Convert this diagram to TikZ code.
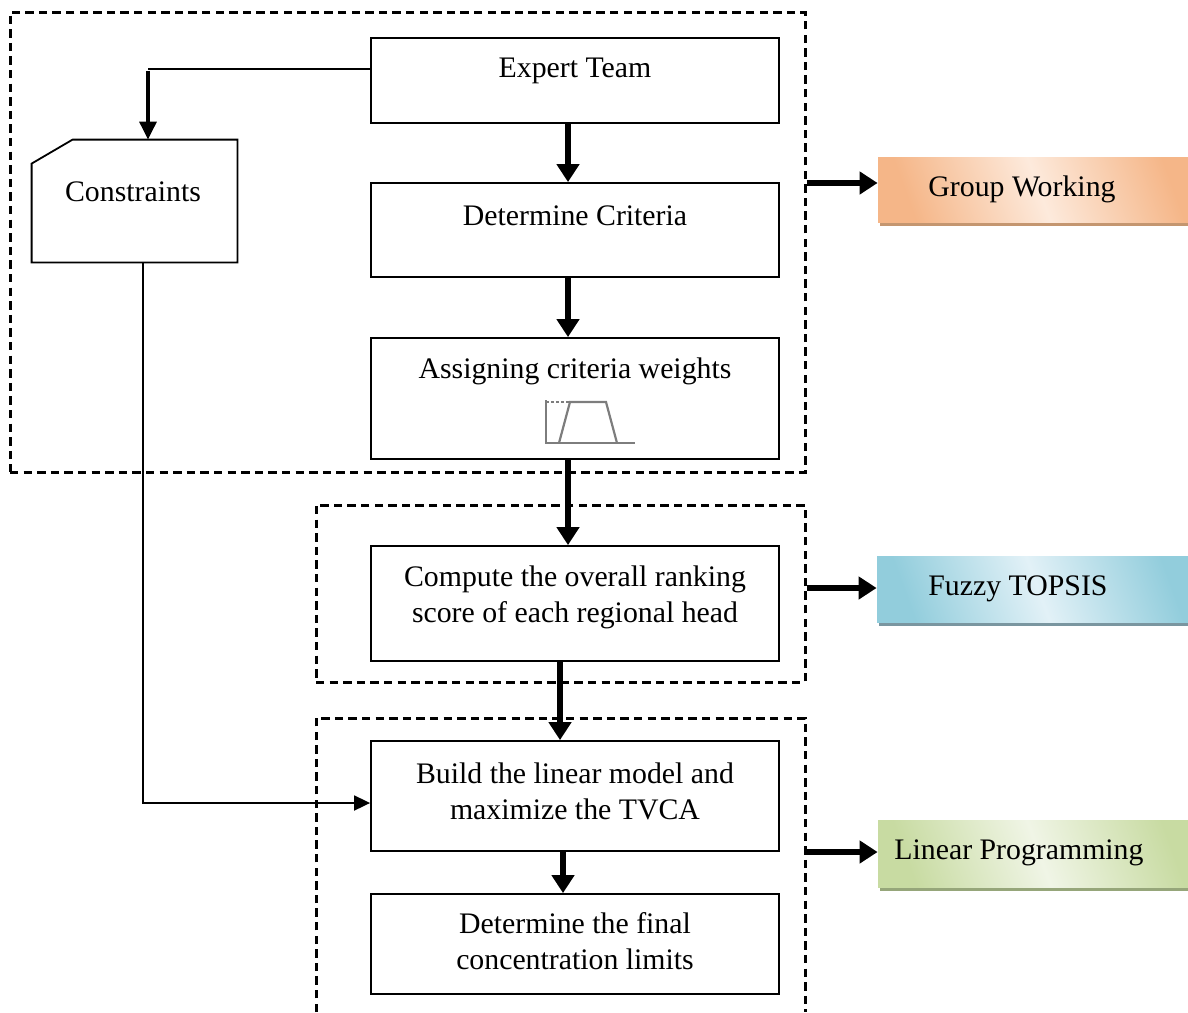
\documentclass[tikz,border=0pt]{standalone}
\usepackage{fontspec}
\setmainfont{Liberation Serif}
\usetikzlibrary{arrows.meta}
\usetikzlibrary{shadows}
\definecolor{gwdark}{RGB}{245,182,136}
\definecolor{gwlight}{RGB}{253,234,220}
\definecolor{gwshadow}{RGB}{196,150,112}
\definecolor{ftdark}{RGB}{146,205,220}
\definecolor{ftlight}{RGB}{226,241,247}
\definecolor{ftshadow}{RGB}{122,150,160}
\definecolor{lpdark}{RGB}{200,219,162}
\definecolor{lplight}{RGB}{240,245,230}
\definecolor{lpshadow}{RGB}{150,166,122}
\definecolor{icongray}{RGB}{125,125,125}

\tikzset{
  procbox/.style={draw, line width=0.9pt, minimum width=204pt, inner sep=0pt},
  grpbox/.style={draw, line width=1.5pt, dash pattern=on 4.2pt off 2.6pt, inner sep=0pt},
  txt/.style={font=\fontsize{14.9}{18}\selectfont, align=center, inner sep=0pt},
  thickarr/.style={line width=3.2pt, -{Triangle[length=9pt,width=11pt]}},
  thinarr/.style={line width=0.9pt, -{Triangle[length=8pt,width=7.5pt]}},
  toolbox/.style={minimum width=161pt, inner sep=0pt, shading=axis,
    left color=#1dark, right color=#1dark, middle color=#1light, shading angle=110,
    drop shadow={shadow xshift=1.2pt, shadow yshift=-1.8pt, fill=#1shadow, opacity=1}},
}

\begin{document}
\begin{tikzpicture}[x=0.5pt,y=0.5pt,yscale=-1]
	\useasboundingbox (0,0) rectangle (1188,1012);

	% dashed groups
	\node[grpbox, minimum width=397.5pt, minimum height=230pt] (gwork) at (407.5,242) {};
	\node[grpbox, minimum width=244.5pt, minimum height=88.5pt] (gtop) at (560.5,593.5) {};
	\draw[grpbox] (316,1012) -- (316,718) -- (805,718) -- (805,1012);
	\coordinate (glin) at (805,852);

	% process boxes
	\node[procbox, minimum height=42.5pt] (expert) at (575,80.5) {};
	\node[procbox, minimum height=47pt] (crit) at (575,230) {};
	\node[procbox, minimum height=60.5pt] (weights) at (575,398.5) {};
	\node[procbox, minimum height=57.5pt] (rank) at (575,603.5) {};
	\node[procbox, minimum height=55pt] (model) at (575,796) {};
	\node[procbox, minimum height=50pt] (limits) at (575,944) {};

	% Text Node
	\node[txt] (expertlbl) at (575,71) {Expert Team};
	\node[txt] (critlbl) at (575,216) {Determine Criteria};
	\node[txt] (weightslbl) at (575,371) {Assigning criteria weights};
	\node[txt] (ranklbl) at (575,597) {Compute the overall ranking\\score of each regional head};
	\node[txt] (modellbl) at (575,791) {Build the linear model and\\maximize the TVCA};
	\node[txt] (limitslbl) at (575,941.5) {Determine the final\\concentration limits};

	% fuzzy number icon
	\draw[icongray, line width=1.1pt] (546,400) -- (546,443) -- (635,443);
	\draw[icongray, line width=1.1pt] (559,443) -- (570,402) -- (606,402) -- (617,443);
	\draw[icongray, line width=1.1pt, dash pattern=on 1.5pt off 1pt] (546,402) -- (570,402);

	% constraints card
	\node[minimum width=102.5pt, minimum height=61pt, inner sep=0pt] (cons) at (134.5,201) {};
	\draw[line width=0.9pt] (cons.south west) -- (cons.south east) -- (cons.north east)
	  -- ([xshift=20.5pt]cons.north west) -- ([yshift=12pt]cons.north west) -- cycle;
	\node[txt] (conslbl) at (133,192) {Constraints};

	% main flow
	\draw[thickarr] ([xshift=-3.5pt]expert.south) -- ([xshift=-3.5pt]crit.north);
	\draw[thickarr] ([xshift=-3.5pt]crit.south) -- ([xshift=-3.5pt]weights.north);
	\draw[thickarr] ([xshift=-3.5pt]weights.south) -- ([xshift=-3.5pt]rank.north);
	\draw[thickarr] ([xshift=-7.5pt]rank.south) -- ([xshift=-7.5pt]model.north);
	\draw[thickarr] ([xshift=-6pt]model.south) -- ([xshift=-6pt]limits.north);

	% constraints links
	\coordinate (ctop) at (148,69);
	\coordinate (cbot) at (143,803);
	\draw[line width=0.9pt] (expert.west |- ctop) -- (ctop);
	\draw[line width=1.6pt, -{Triangle[length=9pt,width=8.5pt]}] ([yshift=0.8pt]ctop) -- (cons.north -| ctop);
	\draw[thinarr] (cons.south -| cbot) -- (cbot) -- (model.west |- cbot);

	% tools
	\node[toolbox=gw, minimum height=32.5pt] (gw) at (1039,189.5) {};
	\node[toolbox=ft, minimum height=33pt] (ft) at (1038,589) {};
	\node[toolbox=lp, minimum height=33.5pt] (lp) at (1039,853.5) {};
	\node[txt, anchor=west] (gwlbl) at (928,189) {Group Working};
	\node[txt, anchor=west] (ftlbl) at (928,589) {Fuzzy TOPSIS};
	\node[txt, anchor=west] (lplbl) at (894,853) {Linear Programming};

	\coordinate (a1) at (0,183);
	\coordinate (a2) at (0,588);
	\draw[thickarr] (gwork.east |- a1) -- (gw.west |- a1);
	\draw[thickarr] (gtop.east |- a2) -- (ft.west |- a2);
	\draw[thickarr] (glin) -- (lp.west |- glin);

\end{tikzpicture}
\end{document}
